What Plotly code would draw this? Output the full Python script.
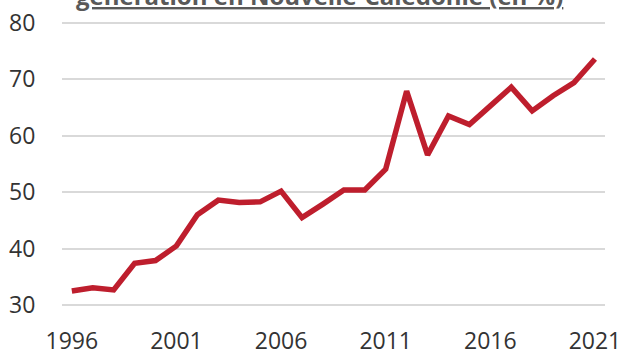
import plotly.graph_objects as go

years = list(range(1996, 2022))
share = [32.5, 33.1, 32.7, 37.4, 37.9, 40.5, 46.0, 48.6, 48.2, 48.3,
         50.2, 45.5, 47.9, 50.4, 50.4, 54.1, 67.9, 56.6, 63.5, 62.0,
         65.3, 68.6, 64.4, 67.1, 69.4, 73.6]
x_ticks = [1996, 2001, 2006, 2011, 2016, 2021]
y_ticks = [30, 40, 50, 60, 70, 80]
title_text = "génération en Nouvelle-Calédonie (en %)"
grid_color = "#D9D9D9"

fig = go.Figure(
    go.Scatter(
        x=years, y=share, mode="lines",
        line=dict(color="#BE1E2D", width=5.5),
        hoverinfo="x+y",
    )
)

fig.update_layout(
    width=621, height=350,
    margin=dict(l=62, r=16, t=20, b=42),
    paper_bgcolor="white", plot_bgcolor="white",
    showlegend=False,
    font=dict(family="Open Sans", size=23, color="#333333"),
    annotations=[dict(
        text=f"<b><u>{title_text}</u></b>",
        xref="paper", yref="paper", x=0.475, y=1, xanchor="center", yanchor="bottom",
        yshift=6, showarrow=False,
        font=dict(family="Open Sans", size=24, color="#595959"),
    )],
)

fig.update_xaxes(
    range=[1995.53, 2021.48], tickvals=x_ticks, ticktext=[str(v) for v in x_ticks],
    showgrid=False, zeroline=False, showline=False, automargin=False,
    ticklabeloverflow="allow",
    ticks="outside", ticklen=12, tickcolor="rgba(0,0,0,0)",
)
fig.update_yaxes(
    range=[29.5, 80.5], tickvals=y_ticks,
    showgrid=True, gridcolor=grid_color, gridwidth=1.5,
    zeroline=False, showline=False, automargin=False,
    ticks="outside", ticklen=21, tickcolor="rgba(0,0,0,0)",
)

fig.write_html("out.html")
